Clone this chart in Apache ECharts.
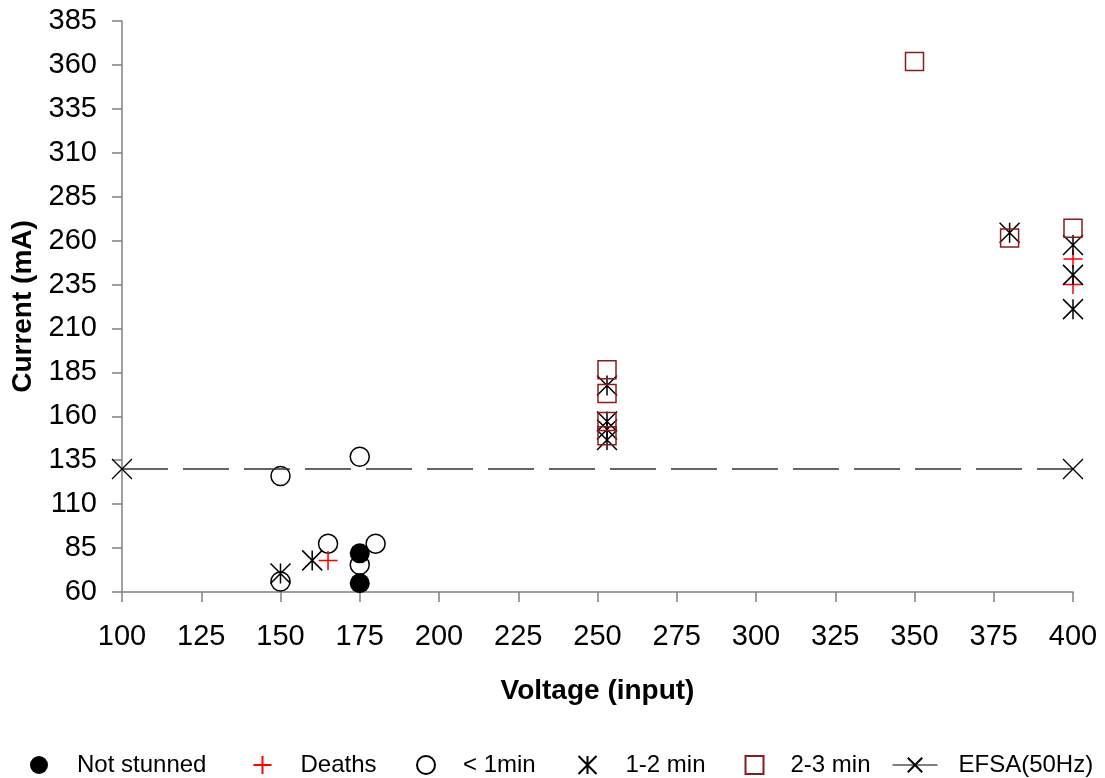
<!DOCTYPE html>
<html>
<head>
<meta charset="utf-8">
<style>
  html, body { margin: 0; padding: 0; background: #fff; }
  #chart { width: 1105px; height: 778px; }
</style>
<script src="https://cdn.jsdelivr.net/npm/echarts@6/dist/echarts.min.js"></script>
</head>
<body>
<div id="chart"></div>
<script>
// values: [voltage, current]
var notStunned = [[175, 82], [175, 65]];
var deaths = [[165, 78], [400, 249.5], [400, 235]];
var lessOneMin = [[150, 126], [175, 137], [165, 87.5], [180, 87.5], [175, 75.5], [150, 66]];
var oneTwoMin = [[150, 70.5], [160, 78], [253, 177.5], [253, 157], [253, 152.5], [253, 146.5],
                 [380, 264.5], [400, 257.5], [400, 240.5], [400, 221]];
var twoThreeMin = [[253, 186.5], [253, 173], [253, 157], [253, 149], [350, 362], [380, 261.5], [400, 267]];
var efsa = [[100, 130], [400, 130]];

var xTicks = { min: 100, max: 400, interval: 25 };
var yTicks = { min: 60, max: 385, interval: 25 };

window.addEventListener("load", initChart);

function initChart() {
    var chart = echarts.init(document.getElementById("chart"));
    var font = "'Liberation Sans', Arial, sans-serif";

    var plus = 'path://M5,0L5,10M0,5L10,5';
    var star = 'path://M5,0L5,10M0,0L10,10M10,0L0,10';
    var cross = 'path://M0,0L10,10M10,0L0,10';

    // one legend per entry so each sits where it does in the picture
    var legendItems = [
        { name: 'Not stunned', left: 30, w: 18, pad: 24 },
        { name: 'Deaths', left: 251, w: 18, pad: 24 },
        { name: '< 1min', left: 416, w: 18, pad: 23 },
        { name: '1-2 min', left: 576, w: 18, pad: 24 },
        { name: '2-3 min', left: 743, w: 18, pad: 22 },
        { name: 'EFSA(50Hz)', left: 892, w: 45, pad: 16 }
    ];
    var legends = legendItems.map(function (it) {
        return {
            data: [it.name],
            left: it.left,
            top: 753,
            itemWidth: it.w,
            itemHeight: 18,
            padding: 0,
            selectedMode: false,
            lineStyle: { type: 'solid', color: '#000', width: 1 },
            textStyle: {
                fontFamily: font, fontSize: 24, color: '#000',
                padding: [0, 0, 0, it.pad]
            }
        };
    });

    var axisLineStyle = { color: '#808080', width: 1.5 };

    var option = {
        animation: false,
        backgroundColor: '#fff',
        legend: legends,
        grid: { left: 122, right: 32, top: 21, bottom: 186, containLabel: false, outerBoundsMode: 'none' },
        xAxis: {
            type: 'value',
            min: xTicks.min, max: xTicks.max, interval: xTicks.interval,
            name: 'Voltage (input)',
            nameLocation: 'middle',
            nameGap: 85,
            nameTextStyle: { fontFamily: font, fontSize: 28, fontWeight: 'bold', color: '#000' },
            axisLine: { show: true, onZero: false, lineStyle: axisLineStyle },
            axisTick: { show: true, length: 10, lineStyle: axisLineStyle },
            axisLabel: { fontFamily: font, fontSize: 29, color: '#000', margin: 30 },
            splitLine: { show: false }
        },
        yAxis: {
            type: 'value',
            min: yTicks.min, max: yTicks.max, interval: yTicks.interval,
            name: 'Current (mA)',
            nameLocation: 'middle',
            nameGap: 83,
            nameTextStyle: { fontFamily: font, fontSize: 28, fontWeight: 'bold', color: '#000' },
            axisLine: { show: true, onZero: false, lineStyle: axisLineStyle },
            axisTick: { show: true, length: 10, lineStyle: axisLineStyle },
            axisLabel: { fontFamily: font, fontSize: 29, color: '#000', margin: 25 },
            splitLine: { show: false }
        },
        series: [
            {
                name: '< 1min', type: 'scatter', data: lessOneMin,
                symbol: 'circle', symbolSize: 19,
                itemStyle: { color: '#fff', borderColor: '#000', borderWidth: 1.5, opacity: 1 }
            },
            {
                name: 'Not stunned', type: 'scatter', data: notStunned,
                symbol: 'circle', symbolSize: 20,
                itemStyle: { color: '#000', opacity: 1 }
            },
            {
                name: 'Deaths', type: 'scatter', data: deaths,
                symbol: plus, symbolSize: 19,
                itemStyle: { color: 'none', borderColor: '#ff0000', borderWidth: 1.5, opacity: 1 }
            },
            {
                name: '1-2 min', type: 'scatter', data: oneTwoMin,
                symbol: star, symbolSize: 20,
                itemStyle: { color: 'none', borderColor: '#000', borderWidth: 1.5, opacity: 1 }
            },
            {
                name: '2-3 min', type: 'scatter', data: twoThreeMin,
                symbol: 'rect', symbolSize: 18,
                itemStyle: { color: 'none', borderColor: '#8c1c1c', borderWidth: 1.5, opacity: 1 }
            },
            {
                name: 'EFSA(50Hz)', type: 'line', data: efsa,
                symbol: cross, symbolSize: 20, showSymbol: true,
                lineStyle: { color: '#333', width: 1.5, type: [46, 15] },
                itemStyle: { color: 'none', borderColor: '#000', borderWidth: 1.3 }
            }
        ]
    };

    chart.setOption(option);
}
</script>
</body>
</html>
